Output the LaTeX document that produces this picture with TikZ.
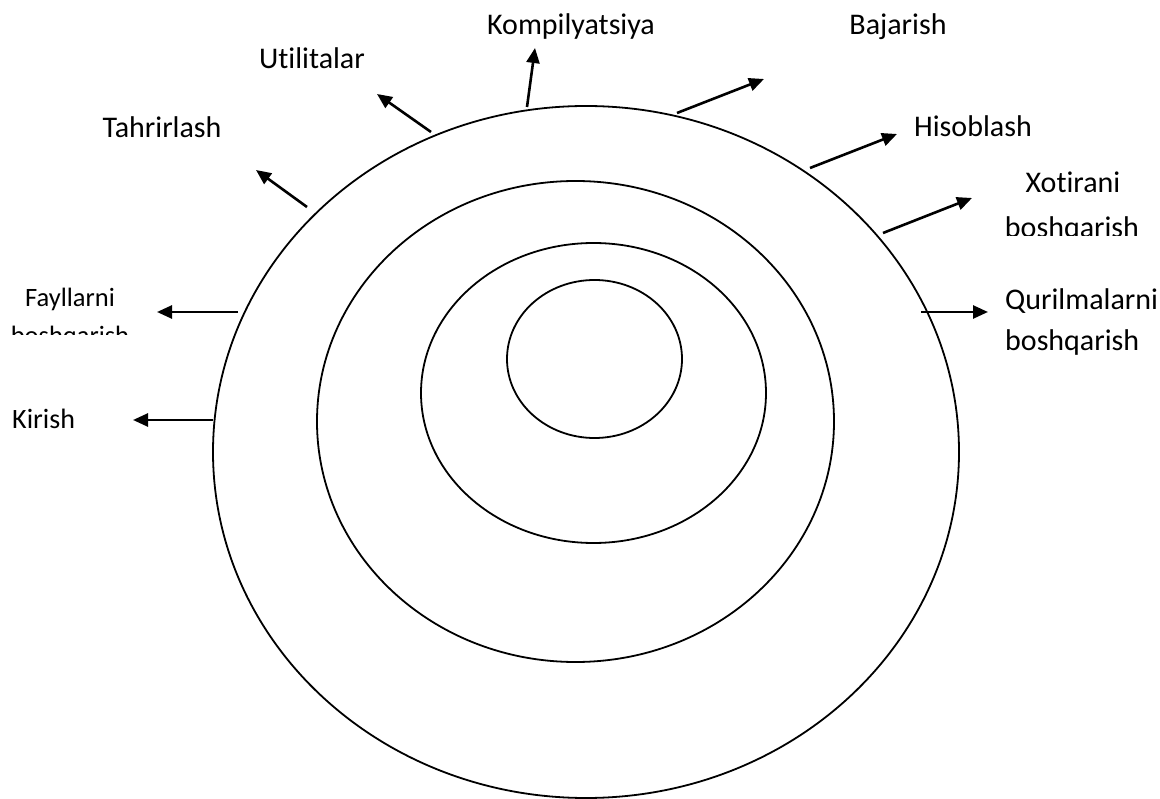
\documentclass[tikz,border=0pt]{standalone}
\usepackage{fontspec}
\setmainfont{Carlito}[Ligatures=NoCommon]
\usetikzlibrary{arrows.meta,shapes.geometric}

\begin{document}
\begin{tikzpicture}[
    x=1pt, y=-1pt,
    font=\fontsize{30pt}{36pt}\selectfont,
    ring/.style={draw, ellipse, line width=1.8pt, inner sep=0pt},
    lbl/.style={inner sep=0pt, anchor=base},
    lbll/.style={inner sep=0pt, anchor=base west},
    small/.style={font=\fontsize{26.5pt}{32pt}\selectfont},
    arr/.style={-{Triangle[length=15pt,width=13pt]}, line width=2.6pt}
]
\useasboundingbox (0,0) rectangle (1160,799);

% rings
\node[ring, minimum width=746, minimum height=692] (outer) at (586,452) {};
\node[ring, minimum width=517, minimum height=481] (second) at (575.5,421.5) {};
\node[ring, minimum width=345, minimum height=300] (third) at (593.5,393) {};
\node[ring, minimum width=175, minimum height=158] (core) at (594.5,359) {};

% labels
\node[lbl] (kompil) at (571,35) {Kompilyatsiya};
\node[lbl] (bajar) at (898,35) {Bajarish};
\node[lbl] (utilit) at (312,69) {Utilitalar};
\node[lbl] (tahrir) at (162,138) {Tahrirlash};
\node[lbl] (hisob) at (973,137) {Hisoblash};
\node[lbl] (xotir) at (1073,193) {Xotirani};
\begin{scope}
  \clip (0,0) rectangle (1160,236);
  \node[lbl] (xotir2) at (1072,238) {boshqarish};
\end{scope}
\node[lbl, small] (fayl) at (70,307) {Fayllarni};
\begin{scope}
  \clip (0,0) rectangle (1160,335);
  \node[lbl, small] (fayl2) at (70,345) {boshqarish};
\end{scope}
\node[lbll] (quril) at (1005,310) {Qurilmalarni};
\node[lbll] (quril2) at (1005,351) {boshqarish};
\node[lbll, font=\fontsize{28pt}{34pt}\selectfont] (kirish) at (12,429) {Kirish};

% arrow ends
\coordinate (kir-a) at (213,420);   \coordinate (kir-b) at (133,420);
\coordinate (fay-a) at (238,312);   \coordinate (fay-b) at (157,312);
\coordinate (tah-a) at (307,207);   \coordinate (tah-b) at (256,170);
\coordinate (uti-a) at (431,132);   \coordinate (uti-b) at (377,94);
\coordinate (kom-a) at (527,107);   \coordinate (kom-b) at (535,48);
\coordinate (baj-a) at (677,113);   \coordinate (baj-b) at (764,79);
\coordinate (his-a) at (810,168);   \coordinate (his-b) at (897,134);
\coordinate (xot-a) at (883,233);   \coordinate (xot-b) at (972,198);
\coordinate (qur-a) at (921,312);   \coordinate (qur-b) at (988,312);

\draw[arr] (kir-a) -- (kir-b);
\draw[arr] (fay-a) -- (fay-b);
\draw[arr] (tah-a) -- (tah-b);
\draw[arr] (uti-a) -- (uti-b);
\draw[arr] (kom-a) -- (kom-b);
\draw[arr] (baj-a) -- (baj-b);
\draw[arr] (his-a) -- (his-b);
\draw[arr] (xot-a) -- (xot-b);
\draw[arr] (qur-a) -- (qur-b);
\end{tikzpicture}
\end{document}
